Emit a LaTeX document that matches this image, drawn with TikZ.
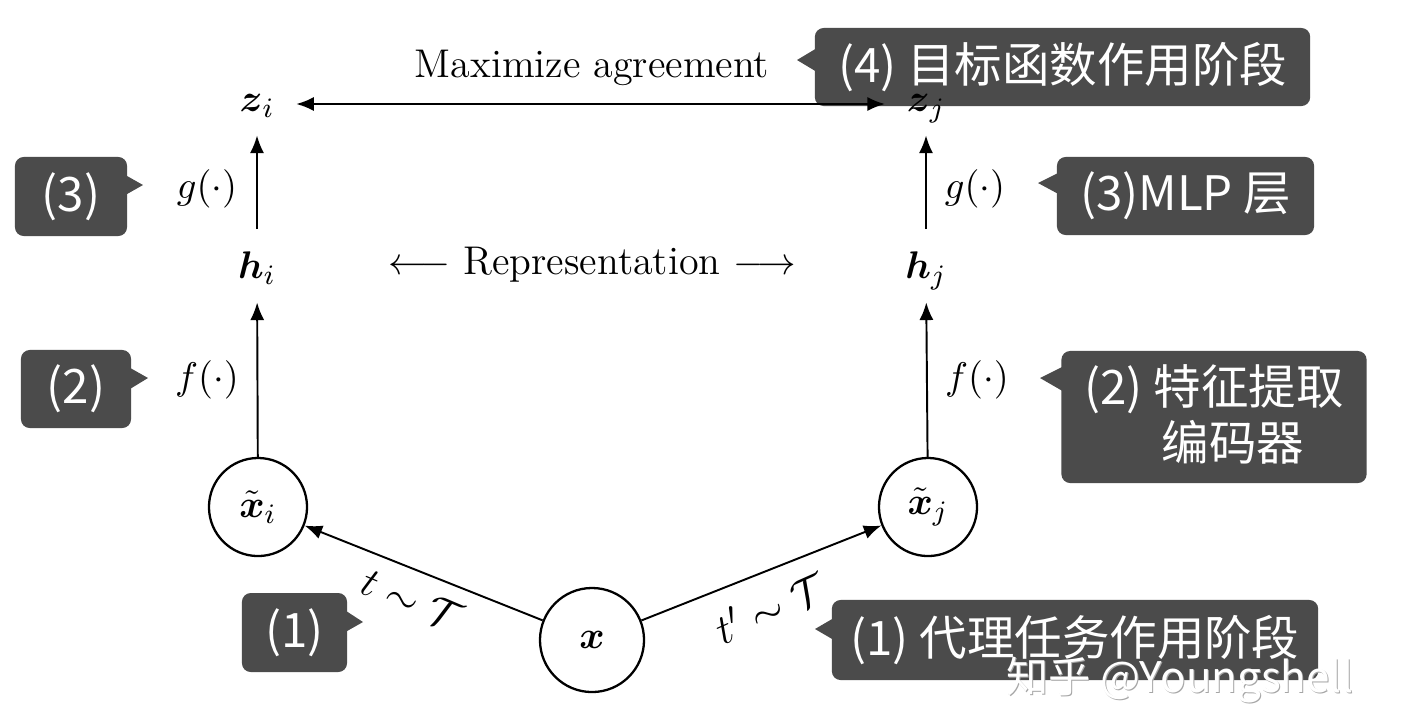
\documentclass[tikz,border=0pt]{standalone}
\usepackage{amsmath,amssymb}
\usepackage{fontspec}
\newfontfamily\cjk{Noto Sans CJK SC}
\usetikzlibrary{arrows.meta,calc}
\definecolor{cbg}{HTML}{4B4B4B}
\begin{document}
\begin{tikzpicture}[x=0.01cm,y=-0.01cm,
  font=\fontsize{11.4}{13.5}\selectfont,
  mnode/.style={inner sep=0pt, text height=1.6ex, text depth=0.6ex},
  circ/.style={circle, draw, line width=0.65pt, minimum size=0.98cm, inner sep=0pt},
  arr/.style={-{Latex[length=5pt,width=4pt]}, line width=0.55pt},
  cbox/.style={fill=cbg, rounded corners=2.5pt, text=white, inner sep=0pt,
     font=\cjk\fontsize{13.5}{17}\selectfont},
  tlabel/.style={inner sep=0pt, font=\fontsize{12.5}{15}\selectfont},
  wm/.style={inner sep=0pt, font=\cjk\fontsize{12}{15}\selectfont}]
\useasboundingbox (0,0) rectangle (1422,708);
\fill[white] (0,0) rectangle (1422,708);

% callouts (drawn first, diagram lies on top)
\node[cbox, minimum width=1.12cm, minimum height=0.79cm] (c3l) at (71,196.5) {(3)};
\fill[cbg] (120,172) -- (143,185) -- (120,198) -- cycle;
\node[cbox, minimum width=1.10cm, minimum height=0.78cm] (c2l) at (76,389) {(2)};
\fill[cbg] (125,365) -- (148,378) -- (125,392) -- cycle;
\node[cbox, minimum width=1.05cm, minimum height=0.79cm] (c1l) at (294.5,632.5) {(1)};
\fill[cbg] (340,607) -- (363,622) -- (340,635) -- cycle;
\node[cbox, minimum width=4.95cm, minimum height=0.78cm] (c4) at (1062.5,67) {(4) 目标函数作用阶段};
\fill[cbg] (822,45) -- (797,60) -- (822,75) -- cycle;
\node[cbox, minimum width=2.57cm, minimum height=0.78cm] (c3r) at (1185.5,196) {(3)MLP 层};
\fill[cbg] (1064,170) -- (1038,183) -- (1064,197) -- cycle;
\node[cbox, minimum width=3.05cm, minimum height=1.32cm, align=left] (c2r) at (1214,417) {(2) 特征提取\\[-1pt]\phantom{(2)}\ \,编码器};
\fill[cbg] (1066,365) -- (1040,378) -- (1066,393) -- cycle;
\node[cbox, minimum width=4.86cm, minimum height=0.80cm] (c1r) at (1075,640) {(1) 代理任务作用阶段};
\fill[cbg] (839,615) -- (815,629) -- (839,643) -- cycle;

% main nodes
\node[mnode] (zi) at (257,104) {$\boldsymbol{z}_i$};
\node[mnode] (zj) at (926,104) {$\boldsymbol{z}_j$};
\node[mnode] (hi) at (257,271) {$\boldsymbol{h}_i$};
\node[mnode] (hj) at (926,271) {$\boldsymbol{h}_j$};
\node[circ] (xi) at (258,507) {$\tilde{\boldsymbol{x}}_i$};
\node[circ] (xj) at (928,507) {$\tilde{\boldsymbol{x}}_j$};
\node[circ, minimum size=1.04cm] (x) at (592,640) {$\boldsymbol{x}$};

\node[inner sep=0pt] (max) at (592,68) {Maximize agreement};
\node[inner sep=0pt] (rep) at (592,265) {$\longleftarrow$ Representation $\longrightarrow$};
\node[inner sep=0pt] (gl) at (207,189) {$g(\cdot)$};
\node[inner sep=0pt] (fl) at (207,380) {$f(\cdot)$};
\node[inner sep=0pt] (gr) at (975,189) {$g(\cdot)$};
\node[inner sep=0pt] (fr) at (977,380) {$f(\cdot)$};

% connectors
\draw[{Latex[length=5pt,width=4pt]}-{Latex[length=5pt,width=4pt]}, line width=0.55pt, shorten <=6pt, shorten >=6pt] (zi) -- (zj);
\draw[arr, shorten <=7pt, shorten >=4pt] (hi) -- (zi);
\draw[arr, shorten <=7pt, shorten >=4pt] (hj) -- (zj);
\draw[arr, shorten >=4pt] (xi) -- (hi);
\draw[arr, shorten >=4pt] (xj) -- (hj);
\draw[arr] (x) -- (xi);
\draw[arr] (x) -- (xj);
\node[tlabel, rotate=-23] (tl) at (412,600) {$t\sim\mathcal{T}$};
\node[tlabel, rotate=24] (tr) at (770,607) {$t'\sim\mathcal{T}$};

% watermark
\node[wm, text=gray!70] (wms) at (1181,681) {知乎\ @Youngshell};
\node[wm, text=white] (wmt) at (1180,680) {知乎\ @Youngshell};
\end{tikzpicture}
\end{document}
